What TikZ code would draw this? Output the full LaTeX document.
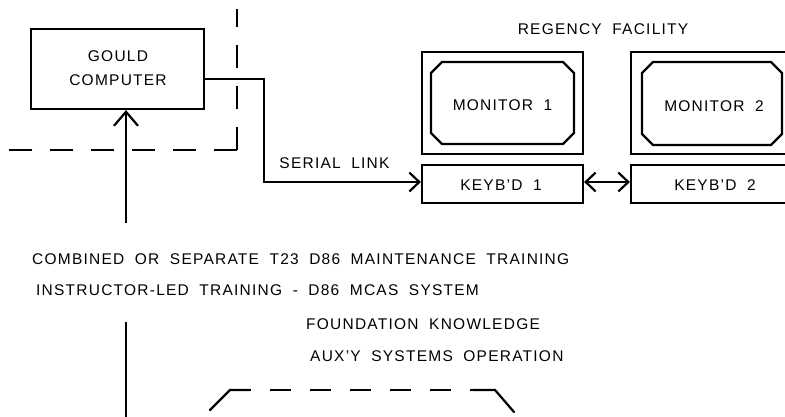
\documentclass[tikz,border=0pt]{standalone}
\usepackage{fontspec}
\setmainfont{Liberation Sans}[LetterSpace=8, WordSpace=1.9]
\usetikzlibrary{arrows.meta}
\newcommand\lbfont{\fontsize{15.5}{24}\selectfont}
\tikzset{
  ln/.style={line width=2.2pt},
  dsh/.style={line width=2.2pt, dash pattern=on 23pt off 18pt},
  dshb/.style={line width=2.2pt, dash pattern=on 21pt off 19pt},
  boxn/.style={draw, line width=2.2pt, inner sep=0pt},
  lbl/.style={font=\lbfont, inner sep=0pt},
  arrbig/.style={ln, -{Straight Barb[length=14pt,width=24pt,line width=2.2pt]}},
  arrsm/.style={ln, -{Straight Barb[length=10pt,width=19pt,line width=2.2pt]}},
  arrdbl/.style={ln, {Straight Barb[length=10pt,width=19pt,line width=2.2pt]}-{Straight Barb[length=10pt,width=19pt,line width=2.2pt]}}
}
\begin{document}
\begin{tikzpicture}[x=1pt,y=-1pt]
\path[use as bounding box, clip] (0,0) rectangle (785,417);
\fill[white] (0,0) rectangle (785,417);

% Gould computer
\node[boxn, minimum width=173pt, minimum height=80pt] (gould) at (117.5,69) {};
\node[lbl, align=center] (gouldt) at (118,68) {GOULD\\COMPUTER};

% dashed boundary
\coordinate (dc) at (237,150);
\coordinate (dtop) at (237,9);
\coordinate (dleft) at (8,150);
\draw[dsh] (dc) -- (dtop);
\draw[dsh] (dc) -- (dleft);

% arrow into Gould
\coordinate (g1) at (126,223);
\draw[arrbig] (g1) -- (g1 |- gould.south);

% Regency facility
\node[lbl] (reg) at (603,29) {REGENCY FACILITY};

% Monitor 1
\node[boxn, minimum width=161pt, minimum height=102pt] (mon1) at (502.5,103) {};
\draw[ln] (442,62) -- (563,62) -- (574,73) -- (574,133) -- (563,144) -- (442,144) -- (431,133) -- (431,73) -- cycle;
\node[lbl] (mon1t) at (502.5,105) {MONITOR 1};

% Monitor 2
\node[boxn, minimum width=166pt, minimum height=102pt] (mon2) at (714,103) {};
\draw[ln] (653,62) -- (771,62) -- (782,73) -- (782,134) -- (771,145) -- (653,145) -- (642,134) -- (642,73) -- cycle;
\node[lbl] (mon2t) at (714,106) {MONITOR 2};

% Keyboards
\node[boxn, minimum width=161pt, minimum height=38pt] (key1) at (502.5,184) {};
\node[lbl] (key1t) at (501,185) {KEYB'D 1};
\node[boxn, minimum width=166pt, minimum height=38pt] (key2) at (714,184) {};
\node[lbl] (key2t) at (715,185) {KEYB'D 2};

% serial link
\coordinate (sl) at (264,182);
\draw[arrsm] ([yshift=-10pt]gould.east) -| (sl) -- (sl -| key1.west);
\node[lbl] (slt) at (334.5,163) {SERIAL LINK};

% double arrow
\draw[arrdbl] ([yshift=2pt]key1.east) -- ([yshift=2pt]key2.west);

% text lines
\node[lbl, anchor=base west] (t1) at (32,264.5) {COMBINED OR SEPARATE T23 D86 MAINTENANCE TRAINING};
\node[lbl, anchor=base west] (t2) at (36,295.5) {INSTRUCTOR-LED TRAINING - D86 MCAS SYSTEM};
\node[lbl, anchor=base west] (t3) at (306,329.5) {FOUNDATION KNOWLEDGE};
\node[lbl, anchor=base west] (t4) at (310,361.5) {AUX'Y SYSTEMS OPERATION};

% bottom line
\coordinate (b1) at (126,322);
\coordinate (b2) at (126,420);
\draw[ln] (b1) -- (b2);

% bottom dashed trapezoid
\coordinate (p1) at (210,410);
\coordinate (p2) at (230,390);
\coordinate (p3) at (495,390);
\coordinate (p4) at (514,412);
\draw[ln, line cap=round] (p1) -- (p2) -- ++(20,0);
\draw[ln, line cap=round] (p4) -- (p3) -- ++(-22,0);
\draw[dshb] (p2) -- (p3);
\end{tikzpicture}
\end{document}
